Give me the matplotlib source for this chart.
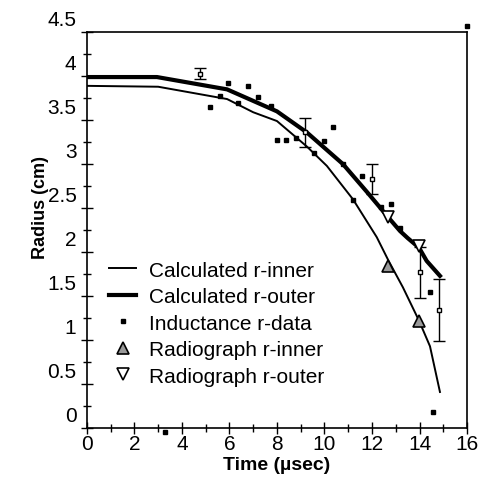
#!/usr/bin/env python3
"""Radius vs time: calculated curves, inductance and radiograph data"""

import matplotlib
matplotlib.use('Agg')
import matplotlib.pyplot as plt
import matplotlib.transforms as mtransforms
from matplotlib.ticker import MultipleLocator

plt.rcParams['font.family'] = ['Liberation Sans', 'DejaVu Sans']

# calculated curves
t_inner = [0, 3.0, 5.9, 7.0, 8.0, 9.26, 10.1, 11.2, 12.2, 12.7, 13.3, 13.98, 14.44, 14.86]
r_inner = [3.89, 3.88, 3.74, 3.59, 3.49, 3.20, 2.98, 2.60, 2.17, 1.90, 1.60, 1.22, 0.93, 0.41]
t_outer = [0, 2.95, 5.9, 8.0, 9.26, 10.78, 11.8, 12.67, 13.18, 13.5, 13.98, 14.3, 14.86]
r_outer = [3.99, 3.99, 3.85, 3.60, 3.36, 3.00, 2.68, 2.40, 2.24, 2.16, 2.05, 1.90, 1.73]

# inductance data (plain points)
t_ind = [5.94, 6.78, 5.18, 5.6, 6.36, 7.2, 7.75, 8.0, 8.38, 8.8, 9.56, 9.98, 10.36,
         10.78, 11.58, 11.2, 12.38, 12.8, 13.18, 14.44, 14.57, 3.28, 16.0]
r_ind = [3.92, 3.89, 3.65, 3.78, 3.70, 3.76, 3.66, 3.28, 3.27, 3.30, 3.13, 3.26, 3.42,
         3.00, 2.86, 2.59, 2.51, 2.55, 2.27, 1.55, 0.18, -0.05, 4.57]

# inductance data with error bars
t_err = [4.76, 9.18, 12.0, 14.02, 14.82]
r_err = [4.03, 3.36, 2.83, 1.77, 1.34]
e_err = [0.06, 0.17, 0.17, 0.29, 0.35]

# radiograph
t_rin = [12.67, 13.98]
r_rin = [1.84, 1.22]
t_rout = [12.67, 13.98]
r_rout = [2.40, 2.07]

fig = plt.figure(figsize=(4.8, 4.81), dpi=100)
ax = fig.add_axes([0.181, 0.108, 0.792, 0.823])

ax.plot(t_inner, r_inner, color='black', lw=1.4, label='Calculated r-inner')
ax.plot(t_outer, r_outer, color='black', lw=3.0, label='Calculated r-outer')
ax.plot(t_ind, r_ind, ls='none', marker='s', ms=3, color='black',
        label='Inductance r-data', clip_on=False)
ax.errorbar(t_err, r_err, yerr=e_err, fmt='s', ms=2.5, mfc='white', mec='black',
            ecolor='black', elinewidth=1.0, capsize=4, capthick=1.0)
ax.plot(t_rin, r_rin, ls='none', marker='^', ms=9, mfc='#999999', mec='black',
        mew=1.2, label='Radiograph r-inner')
ax.plot(t_rout, r_rout, ls='none', marker='v', ms=9, mfc='white', mec='black',
        mew=1.2, label='Radiograph r-outer')

ax.set_xlim(0, 16)
ax.set_ylim(0, 4.5)
ax.xaxis.set_major_locator(MultipleLocator(2))
ax.xaxis.set_minor_locator(MultipleLocator(1))
ax.yaxis.set_major_locator(MultipleLocator(0.5))
ax.yaxis.set_minor_locator(MultipleLocator(0.25))
ax.yaxis.set_major_formatter(plt.FuncFormatter(lambda v, p: f'{v:g}'))
ax.tick_params(which='major', direction='inout', length=9, width=1, labelsize=15)
ax.tick_params(which='minor', direction='inout', length=6, width=1)
ax.tick_params(axis='y', pad=3)
ax.tick_params(axis='x', pad=0)

# y tick labels sit a little above their ticks in the original
offset = mtransforms.ScaledTranslation(0, 0.15, fig.dpi_scale_trans)
for lab in ax.get_yticklabels():
    lab.set_transform(lab.get_transform() + offset)

for sp in ax.spines.values():
    sp.set_linewidth(1.2)

ax.set_xlabel('Time (\u00b5sec)', fontsize=14, weight='bold', labelpad=2)
ax.set_ylabel('Radius (cm)', fontsize=13, weight='bold')
ax.yaxis.set_label_coords(-0.10, 0.56)

ax.legend(loc='upper left', bbox_to_anchor=(0.02, 0.46), frameon=False,
          fontsize=15, handlelength=1.3, handletextpad=0.6, labelspacing=0.36,
          borderaxespad=0.3)

fig.savefig('out.png', dpi=100)
